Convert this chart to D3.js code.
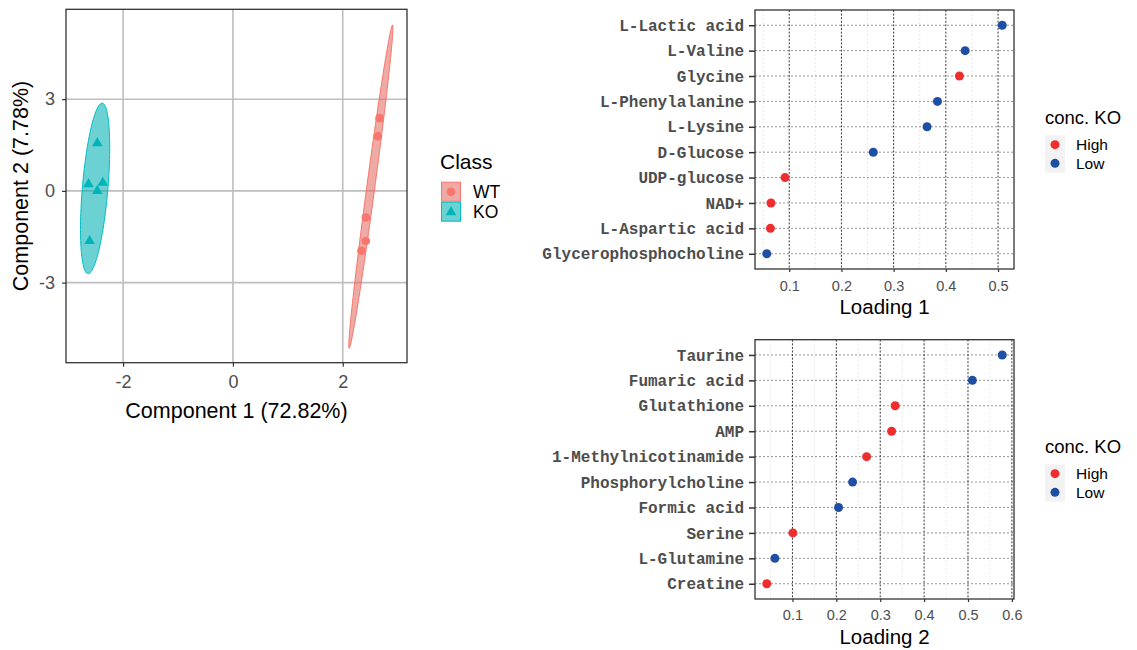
<!DOCTYPE html>
<html>
<head>
<meta charset="utf-8">
<script src="https://cdn.jsdelivr.net/npm/d3@7"></script>
<style>
  html, body { margin: 0; padding: 0; background: #fff; }
  svg { display: block; font-family: Arial, "Liberation Sans", sans-serif; }
</style>
</head>
<body>
<svg id="chart" width="1137" height="650"></svg>
<script>
// ---------------- DATA ----------------
// PLS-DA score plot
const classNames = ["WT", "KO"];
const classColors = ["#F8766D", "#00BFC4"];
const wtComp1 = [2.67, 2.64, 2.42, 2.42, 2.34];
const wtComp2 = [2.38, 1.79, -0.87, -1.64, -1.96];
const koComp1 = [-2.47, -2.63, -2.37, -2.47, -2.61];
const koComp2 = [1.56, 0.22, 0.27, 0.00, -1.64];
// 95% confidence ellipses (centre, half-extent along each component, correlation)
const ellipseCx = [2.512, -2.51];
const ellipseCy = [0.142, 0.082];
const ellipseHx = [0.402, 0.266];
const ellipseHy = [5.289, 2.79];
const ellipseR  = [0.983, 0.48];
const pcaTicksX = [-2, 0, 2];
const pcaTicksY = [-3, 0, 3];
const pcaDomainX = [-3.04, 3.17];
const pcaDomainY = [-5.62, 5.94];

// Loadings
const load1Names = ["L-Lactic acid", "L-Valine", "Glycine", "L-Phenylalanine", "L-Lysine",
  "D-Glucose", "UDP-glucose", "NAD+", "L-Aspartic acid", "Glycerophosphocholine"];
const load1Values = [0.508, 0.437, 0.426, 0.384, 0.364, 0.261, 0.092, 0.065, 0.064, 0.057];
const load1Conc = ["Low", "Low", "High", "Low", "Low", "Low", "High", "High", "High", "Low"];
const load1Ticks = [0.1, 0.2, 0.3, 0.4, 0.5];

const load2Names = ["Taurine", "Fumaric acid", "Glutathione", "AMP", "1-Methylnicotinamide",
  "Phosphorylcholine", "Formic acid", "Serine", "L-Glutamine", "Creatine"];
const load2Values = [0.578, 0.510, 0.334, 0.326, 0.269, 0.237, 0.205, 0.101, 0.060, 0.0415];
const load2Conc = ["Low", "Low", "High", "High", "High", "Low", "Low", "High", "Low", "High"];
const load2Ticks = [0.1, 0.2, 0.3, 0.4, 0.5, 0.6];

const concLevels = ["High", "Low"];
const concColors = ["#EE2E2E", "#1F4FA3"];

// ---------------- DRAW ----------------
const SANS = "Arial, 'Liberation Sans', sans-serif";
const MONO = "'Liberation Mono', 'Courier New', monospace";
const svg = d3.select("#chart");

// ===== Score plot =====
(function scorePlot() {
  const L = 66, R = 407, T = 9.3, B = 362.7;
  const x = d3.scaleLinear().domain(pcaDomainX).range([L, R]);
  const y = d3.scaleLinear().domain(pcaDomainY).range([B, T]);
  const g = svg.append("g");

  g.append("rect").attr("x", L).attr("y", T).attr("width", R - L).attr("height", B - T)
    .attr("fill", "#fff");

  // grid
  g.selectAll(".gx").data(pcaTicksX).join("line")
    .attr("x1", d => x(d)).attr("x2", d => x(d)).attr("y1", T).attr("y2", B)
    .attr("stroke", "#bebebe").attr("stroke-width", 1.6);
  g.selectAll(".gy").data(pcaTicksY).join("line")
    .attr("y1", d => y(d)).attr("y2", d => y(d)).attr("x1", L).attr("x2", R)
    .attr("stroke", "#bebebe").attr("stroke-width", 1.6);

  // ellipses
  const color = d3.scaleOrdinal().domain(classNames).range(classColors);
  const ell = classNames.map((c, i) => {
    const pts = d3.range(0, 361, 3).map(deg => {
      const t = deg * Math.PI / 180;
      const px = ellipseCx[i] + ellipseHx[i] * Math.cos(t);
      const py = ellipseCy[i] + ellipseHy[i] * (ellipseR[i] * Math.cos(t) + Math.sqrt(1 - ellipseR[i] * ellipseR[i]) * Math.sin(t));
      return [px, py];
    });
    return { cls: c, pts };
  });
  const line = d3.line().x(d => x(d[0])).y(d => y(d[1])).curve(d3.curveLinearClosed);
  g.selectAll(".ell").data(ell).join("path")
    .attr("d", d => line(d.pts))
    .attr("fill", d => d3.color(color(d.cls)).darker(0.25)).attr("fill-opacity", 0.58)
    .attr("stroke", d => color(d.cls)).attr("stroke-width", 1);

  // points
  const wtPts = wtComp1.map((v, i) => ({ c1: v, c2: wtComp2[i] }));
  const koPts = koComp1.map((v, i) => ({ c1: v, c2: koComp2[i] }));
  g.selectAll(".wt").data(wtPts).join("circle")
    .attr("cx", d => x(d.c1)).attr("cy", d => y(d.c2)).attr("r", 4.3)
    .attr("fill", color("WT"));
  const tri = d3.symbol().type(d3.symbolTriangle).size(48);
  g.selectAll(".ko").data(koPts).join("path")
    .attr("d", tri)
    .attr("transform", d => `translate(${x(d.c1)},${y(d.c2)})`)
    .attr("fill", d3.color(color("KO")).darker(0.15));

  // border
  g.append("rect").attr("x", L).attr("y", T).attr("width", R - L).attr("height", B - T)
    .attr("fill", "none").attr("stroke", "#333").attr("stroke-width", 1.3);

  // axes
  const fmt = d => String(d);
  const ax = g.append("g").attr("transform", `translate(0,${B})`)
    .call(d3.axisBottom(x).tickValues(pcaTicksX).tickSize(4).tickPadding(9).tickFormat(fmt));
  ax.select(".domain").remove();
  ax.selectAll("line").attr("stroke", "#333").attr("stroke-width", 1.2);
  ax.selectAll("text").style("font-family", SANS).style("font-size", "18px").attr("fill", "#4d4d4d");
  const ay = g.append("g").attr("transform", `translate(${L},0)`)
    .call(d3.axisLeft(y).tickValues(pcaTicksY).tickSize(4).tickPadding(7).tickFormat(fmt));
  ay.select(".domain").remove();
  ay.selectAll("line").attr("stroke", "#333").attr("stroke-width", 1.2);
  ay.selectAll("text").style("font-family", SANS).style("font-size", "18px").attr("fill", "#4d4d4d");

  g.append("text").attr("x", (L + R) / 2).attr("y", 418).attr("text-anchor", "middle")
    .style("font-size", "21.5px").attr("fill", "#000").text("Component 1 (72.82%)");
  g.append("text").attr("transform", `translate(28,${(T + B) / 2}) rotate(-90)`)
    .attr("text-anchor", "middle").style("font-size", "21.5px").attr("fill", "#000")
    .text("Component 2 (7.78%)");

  // legend
  const lg = g.append("g");
  lg.append("text").attr("x", 440).attr("y", 169.3).style("font-size", "21px").text("Class");
  classNames.forEach((c, i) => {
    const ky = 181.7 + i * 20;
    lg.append("rect").attr("x", 441.5).attr("y", ky + 0.5).attr("width", 19).attr("height", 19)
      .attr("fill", d3.color(classColors[i]).darker(0.25)).attr("fill-opacity", 0.58)
      .attr("stroke", classColors[i]).attr("stroke-width", 1);
    if (c === "WT") {
      lg.append("circle").attr("cx", 451).attr("cy", ky + 10).attr("r", 4.3).attr("fill", classColors[i]);
    } else {
      lg.append("path").attr("d", tri()).attr("transform", `translate(451,${ky + 10.5})`)
        .attr("fill", d3.color(classColors[i]).darker(0.15));
    }
    lg.append("text").attr("x", 473).attr("y", ky + 10).attr("dy", "0.36em")
      .style("font-size", "17.5px").text(c);
  });
})();

// ===== Loading plots =====
function loadingPlot(opts) {
  const { L, R, T, B, names, values, conc, ticks, title, titleY, tickY, legendBase } = opts;
  const g = svg.append("g");
  const ext = d3.extent(values);
  const pad = (ext[1] - ext[0]) * 0.05;
  const x = d3.scaleLinear().domain([ext[0] - pad, ext[1] + pad]).range([L, R]);
  const y = d3.scalePoint().domain(names).range([T, B]).padding(0.6);
  const color = d3.scaleOrdinal().domain(concLevels).range(concColors);

  g.append("rect").attr("x", L).attr("y", T).attr("width", R - L).attr("height", B - T).attr("fill", "#fff");

  // minor vertical grid
  const step = ticks[1] - ticks[0];
  const minor = [ticks[0] - step / 2].concat(ticks.map(t => t + step / 2))
    .filter(v => x(v) > L && x(v) < R);
  g.selectAll(".mg").data(minor).join("line")
    .attr("x1", d => x(d)).attr("x2", d => x(d)).attr("y1", T).attr("y2", B)
    .attr("stroke", "#e2e2e2").attr("stroke-width", 0.8).attr("stroke-dasharray", "2,2");
  // horizontal grid
  g.selectAll(".hg").data(names).join("line")
    .attr("x1", L).attr("x2", R).attr("y1", d => y(d)).attr("y2", d => y(d))
    .attr("stroke", "#8a8a8a").attr("stroke-width", 0.9).attr("stroke-dasharray", "2,2");
  // major vertical grid
  g.selectAll(".vg").data(ticks).join("line")
    .attr("x1", d => x(d)).attr("x2", d => x(d)).attr("y1", T).attr("y2", B)
    .attr("stroke", "#222").attr("stroke-width", 0.9).attr("stroke-dasharray", "2,1.6");

  // points
  const pts = names.map((n, i) => ({ name: n, value: values[i], conc: conc[i] }));
  g.selectAll(".pt").data(pts).join("circle")
    .attr("cx", d => x(d.value)).attr("cy", d => y(d.name)).attr("r", 4.5)
    .attr("fill", d => color(d.conc));

  // border
  g.append("rect").attr("x", L).attr("y", T).attr("width", R - L).attr("height", B - T)
    .attr("fill", "none").attr("stroke", "#333").attr("stroke-width", 1.3);

  // y axis
  const ay = g.append("g").attr("transform", `translate(${L},0)`)
    .call(d3.axisLeft(y).tickSize(6).tickPadding(5));
  ay.select(".domain").remove();
  ay.selectAll("line").attr("stroke", "#333").attr("stroke-width", 1.5);
  ay.selectAll("text").style("font-family", MONO)
    .style("font-weight", "bold").style("font-size", "16px").attr("fill", "#4d4d4d");

  // x axis
  const ax = g.append("g").attr("transform", `translate(0,${B})`)
    .call(d3.axisBottom(x).tickValues(ticks).tickSize(3).tickPadding(5).tickFormat(d3.format(".1f")));
  ax.select(".domain").remove();
  ax.selectAll("line").attr("stroke", "#333").attr("stroke-width", 1.2);
  ax.selectAll("text").style("font-size", "14.5px").attr("fill", "#4d4d4d")
    .style("font-family", SANS)
    .attr("y", tickY - B).attr("dy", "0.36em");

  g.append("text").attr("x", (L + R) / 2).attr("y", titleY).attr("text-anchor", "middle")
    .attr("dy", "0.36em").style("font-size", "20.5px").attr("fill", "#000").text(title);

  // legend
  const lg = g.append("g");
  lg.append("text").attr("x", 1045).attr("y", legendBase).style("font-size", "18.5px").text("conc. KO");
  const ky0 = legendBase + 11.3;
  lg.append("rect").attr("x", 1045).attr("y", ky0).attr("width", 20).attr("height", 37.4).attr("fill", "#f2f2f2");
  concLevels.forEach((c, i) => {
    const cy = ky0 + 9.35 + i * 18.7;
    lg.append("circle").attr("cx", 1055).attr("cy", cy).attr("r", 4.5).attr("fill", concColors[i]);
    lg.append("text").attr("x", 1076).attr("y", cy).attr("dy", "0.36em").style("font-size", "15.5px").text(c);
  });
}

loadingPlot({ L: 755, R: 1014, T: 10, B: 269, names: load1Names, values: load1Values, conc: load1Conc,
  ticks: load1Ticks, title: "Loading 1", titleY: 306.7, tickY: 286, legendBase: 124 });
loadingPlot({ L: 755, R: 1014, T: 339.7, B: 599, names: load2Names, values: load2Values, conc: load2Conc,
  ticks: load2Ticks, title: "Loading 2", titleY: 636.7, tickY: 615, legendBase: 453 });
</script>
</body>
</html>
